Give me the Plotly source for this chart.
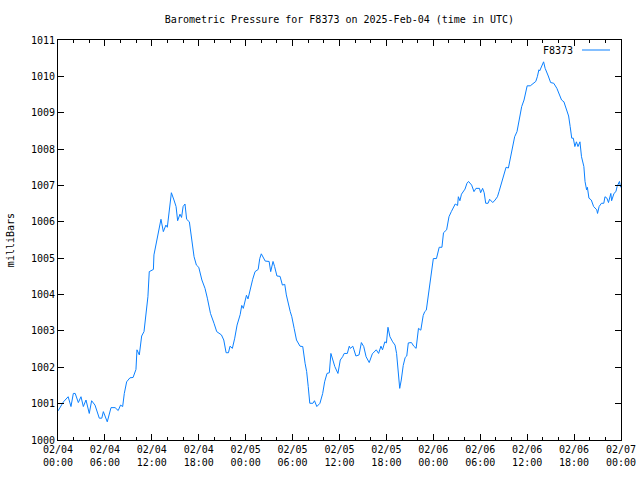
import pandas as pd
import plotly.graph_objects as go

# Hours since 2025-02-04 00:00 UTC
hours = [0, 0.7, 1.3, 1.66, 1.96, 2.2, 2.6, 2.94, 3.24, 3.58, 4.0, 4.3, 4.73, 5.28, 5.6, 5.8,
         6.3, 6.78, 7.3, 7.7, 8.0, 8.27, 8.48, 8.78, 9.2, 9.6, 9.97, 10.1, 10.4, 10.7, 11.0,
         11.25, 11.5, 11.67, 12.2, 12.27, 12.5, 12.8, 13.17, 13.47, 13.8, 13.98, 14.2, 14.5,
         14.83, 15.1, 15.3, 15.6, 15.8, 16.0, 16.24, 16.45, 16.8, 17.1, 17.4, 17.7, 18.0, 18.4,
         18.8, 19.1, 19.5, 19.95, 20.3, 20.9, 21.2, 21.5, 21.8, 22.0, 22.3, 22.6, 22.9, 23.3,
         23.5, 23.7, 23.9, 24.1, 24.3, 24.6, 24.9, 25.2, 25.6, 25.8, 26.0, 26.5, 27.0, 27.2,
         27.5, 27.7, 28.0, 28.4, 28.7, 29.0, 29.2, 29.7, 29.9, 30.2, 30.5, 30.95, 31.3, 31.6,
         31.8, 32.0, 32.2, 32.6, 32.8, 33.1, 33.5, 33.85, 34.1, 34.4, 34.7, 34.9, 35.2, 35.4,
         35.8, 36.1, 36.4, 36.6, 37.0, 37.25, 37.4, 37.7, 37.85, 38.1, 38.5, 38.8, 39.1, 39.4,
         39.8, 40.2, 40.7, 41.0, 41.3, 41.5, 41.8, 42.0, 42.2, 42.45, 42.8, 43.1, 43.3, 43.5,
         43.7, 43.9, 44.15, 44.4, 44.6, 44.8, 45.2, 45.5, 45.8, 46.1, 46.4, 46.7, 46.9, 47.1,
         47.35, 47.65, 48.0, 48.4, 48.75, 49.1, 49.3, 49.7, 50.0, 50.3, 50.8, 51.1, 51.2, 51.4,
         51.6, 52.05, 52.3, 52.5, 52.9, 53.2, 53.45, 53.9, 54.05, 54.3, 54.5, 54.7, 55.0, 55.2,
         55.6, 55.9, 56.2, 56.4, 56.7, 57.0, 57.3, 57.6, 57.8, 58.0, 58.2, 58.4, 58.7, 59.0,
         59.3, 59.6, 59.8, 60.0, 60.4, 60.75, 61.1, 61.3, 61.5, 61.6, 61.85, 62.1, 62.3, 62.5,
         62.7, 63.0, 63.4, 63.8, 64.1, 64.4, 64.7, 65.0, 65.3, 65.5, 65.7, 65.9, 66.1, 66.3,
         66.5, 66.75, 66.95, 67.25, 67.4, 67.6, 67.7, 67.9, 68.2, 68.5, 68.9, 69.0, 69.2, 69.5,
         69.8, 69.95, 70.2, 70.4, 70.7, 70.8, 71.1, 71.35, 71.5, 71.8, 71.95]

pressure = [1000.80, 1001.05, 1001.19, 1000.92, 1001.28, 1001.28, 1001.03, 1001.19, 1000.92,
            1001.10, 1000.73, 1001.08, 1000.96, 1000.60, 1000.60, 1000.78, 1000.50, 1000.89,
            1000.89, 1000.81, 1000.96, 1000.92, 1001.28, 1001.60, 1001.71, 1001.72, 1001.94,
            1002.48, 1002.34, 1002.86, 1002.98, 1003.44, 1003.94, 1004.63, 1004.69, 1005.09,
            1005.36, 1005.68, 1006.07, 1005.73, 1005.91, 1005.85, 1006.33, 1006.80, 1006.60,
            1006.42, 1006.03, 1006.21, 1006.12, 1006.42, 1006.49, 1006.07, 1006.00, 1005.45,
            1005.04, 1004.81, 1004.75, 1004.40, 1004.17, 1003.90, 1003.48, 1003.21, 1002.98,
            1002.89, 1002.75, 1002.40, 1002.40, 1002.58, 1002.52, 1002.80, 1003.16, 1003.45,
            1003.70, 1003.62, 1003.80, 1003.98, 1003.88, 1004.17, 1004.42, 1004.63, 1004.69,
            1004.99, 1005.12, 1004.92, 1004.91, 1004.63, 1004.91, 1004.77, 1004.51, 1004.50,
            1004.26, 1004.28, 1003.99, 1003.53, 1003.39, 1003.07, 1002.75, 1002.58, 1002.57,
            1002.11, 1001.88, 1001.47, 1001.01, 1001.01, 1001.08, 1000.92, 1001.01, 1001.28,
            1001.60, 1001.83, 1001.85, 1002.38, 1002.15, 1002.02, 1001.83, 1002.20, 1002.29,
            1002.38, 1002.38, 1002.58, 1002.52, 1002.58, 1002.48, 1002.31, 1002.34, 1002.68,
            1002.57, 1002.29, 1002.13, 1002.37, 1002.48, 1002.38, 1002.58, 1002.48, 1002.70,
            1002.67, 1003.10, 1002.84, 1002.70, 1002.61, 1002.38, 1001.93, 1001.42, 1001.65,
            1002.05, 1002.27, 1002.31, 1002.67, 1002.68, 1002.58, 1002.52, 1003.07, 1003.02,
            1003.42, 1003.53, 1003.57, 1003.95, 1004.50, 1004.99, 1004.99, 1005.30, 1005.30,
            1005.70, 1005.78, 1006.14, 1006.28, 1006.49, 1006.45, 1006.69, 1006.58, 1006.76,
            1006.90, 1007.06, 1007.11, 1007.01, 1006.83, 1006.92, 1006.92, 1006.80, 1006.92,
            1006.80, 1006.51, 1006.51, 1006.62, 1006.53, 1006.60, 1006.69, 1006.83, 1007.06,
            1007.33, 1007.50, 1007.48, 1007.70, 1007.98, 1008.20, 1008.34, 1008.48, 1008.89,
            1009.17, 1009.35, 1009.58, 1009.74, 1009.74, 1009.81, 1009.86, 1009.99, 1010.18,
            1010.15, 1010.27, 1010.40, 1010.22, 1010.13, 1010.01, 1009.83, 1009.81, 1009.67,
            1009.49, 1009.35, 1009.30, 1009.08, 1008.91, 1008.62, 1008.30, 1008.30, 1008.07,
            1008.20, 1008.07, 1008.20, 1007.79, 1007.52, 1007.11, 1006.88, 1006.95, 1006.65,
            1006.60, 1006.42, 1006.33, 1006.23, 1006.42, 1006.51, 1006.51, 1006.69, 1006.65,
            1006.53, 1006.78, 1006.58, 1006.78, 1006.83, 1006.97, 1007.11, 1006.95]

series_name = "F8373"
title_text = "Barometric Pressure for F8373 on 2025-Feb-04 (time in UTC)"
y_label = "milliBars"
start = pd.Timestamp("2025-02-04 00:00")
end = pd.Timestamp("2025-02-07 00:00")

times = [start + pd.Timedelta(hours=h) for h in hours]

FONT = "DejaVu Sans Mono"
LINE_COLOR = "#0a80ff"

fig = go.Figure()
fig.add_trace(go.Scatter(x=times, y=pressure, mode="lines", name=series_name,
                         line=dict(color=LINE_COLOR, width=1), showlegend=False))

fig.update_layout(
    width=640, height=480,
    margin=dict(l=58, r=19, t=40, b=40),
    paper_bgcolor="white", plot_bgcolor="white",
    font=dict(family=FONT, size=10, color="black"),
    title=dict(text=title_text, x=0.5304, xanchor="center", y=1 - 19 / 480, yanchor="middle",
               yref="container", font=dict(family=FONT, size=10, color="black")),
)

fig.update_xaxes(
    type="date", range=[start, end], automargin=False,
    dtick=6 * 3600 * 1000, tick0=start, tickformat="%m/%d<br>%H:%M",
    ticks="inside", ticklen=6, tickcolor="black", tickwidth=1,
    minor=dict(dtick=2 * 3600 * 1000, ticks="inside", ticklen=3, tickcolor="black"),
    showline=True, linecolor="black", linewidth=1, mirror="ticks",
    showgrid=False, zeroline=False, tickfont=dict(family=FONT, size=10),
)
fig.update_yaxes(
    range=[1000, 1011], dtick=1, tick0=1000, tickformat="d", automargin=False,
    ticks="inside", ticklen=6, tickcolor="black", tickwidth=1,
    showline=True, linecolor="black", linewidth=1, mirror="ticks",
    showgrid=False, zeroline=False, tickfont=dict(family=FONT, size=10),
)

# y-axis label
fig.add_annotation(text=y_label, textangle=-90, xref="paper", yref="paper",
                   x=-0.085, y=0.5, xanchor="center", yanchor="middle", showarrow=False,
                   font=dict(family=FONT, size=10))
# legend: text to the left of a line sample (gnuplot style)
fig.add_annotation(text=series_name, xref="paper", yref="paper",
                   x=(575 - 58) / 563, y=(440 - 50) / 400, xanchor="right", yanchor="middle",
                   showarrow=False, font=dict(family=FONT, size=10))
fig.add_shape(type="line", xref="paper", yref="paper",
              x0=(582 - 58) / 563, x1=(610 - 58) / 563, y0=(440 - 50) / 400, y1=(440 - 50) / 400,
              line=dict(color=LINE_COLOR, width=1))

fig.write_html("out.html")
